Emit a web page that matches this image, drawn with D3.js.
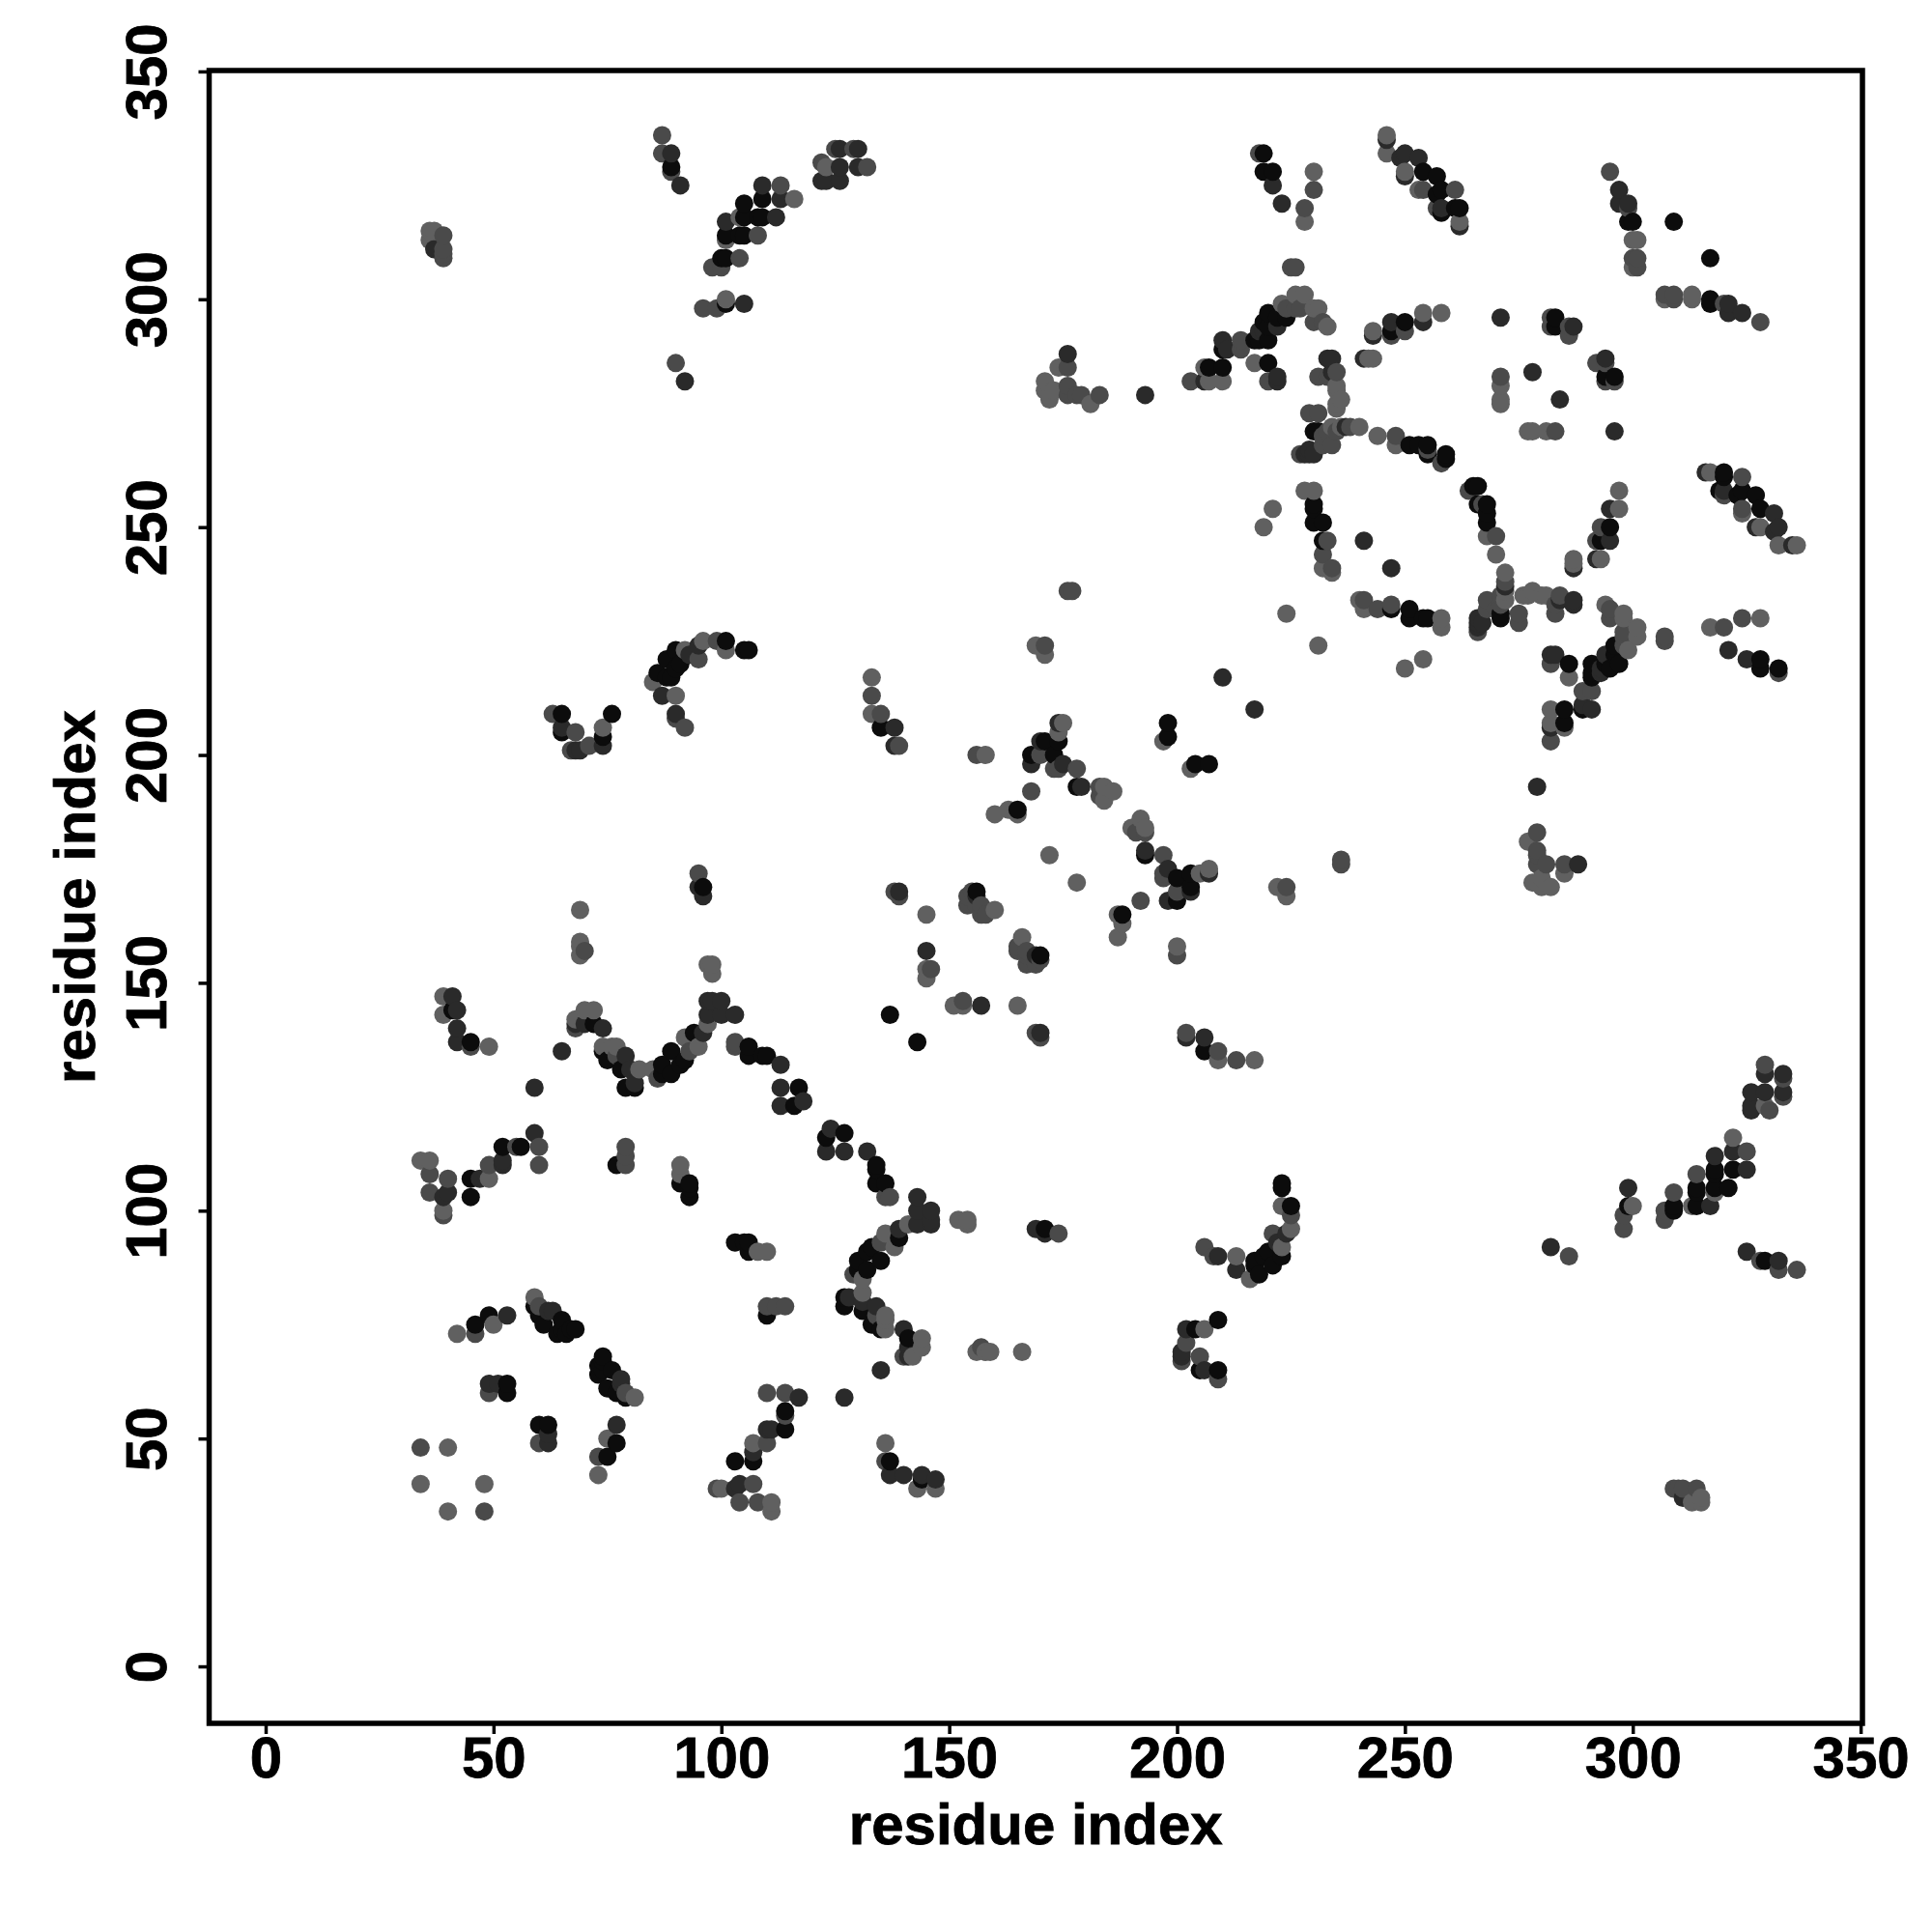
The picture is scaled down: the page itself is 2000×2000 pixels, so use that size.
<!DOCTYPE html>
<html>
<head>
<meta charset="utf-8">
<script src="https://cdn.jsdelivr.net/npm/d3@7/dist/d3.min.js"></script>
<style>html,body{margin:0;padding:0;background:#fff}svg{display:block}</style>
</head>
<body>
<script>
// Residue contact pairs [i, j], i < j. The map is symmetric: each pair is drawn at (i,j) and (j,i).
const contactsLight = [[34,40],[40,48],[36,315],[37,315],[36,313],[101,300],[101,313],[104,318],[116,322],[123,329],[74,206],[85,216],[90,213],[92,223],[96,225],[101,223],[133,217],[133,209],[69,166],[69,159],[69,158],[69,156],[97,154],[98,154],[98,152],[145,165],[145,153],[145,151],[39,147],[39,143],[68,142],[70,144],[72,144],[74,136],[76,136],[77,136],[82,131],[85,131],[92,138],[95,136],[97,141],[34,111],[36,111],[39,100],[49,107],[91,110],[91,108],[42,73],[50,75],[59,81],[49,136],[169,224],[171,222],[175,207],[174,205],[224,231],[197,203],[219,250],[221,254],[184,193],[186,192],[184,190],[160,187],[163,188],[165,187],[158,200],[172,178],[160,166],[174,285],[171,282],[171,280],[172,278],[173,280],[181,277],[207,282],[210,282],[206,285],[217,286],[246,336],[246,332],[250,328],[253,324],[262,317],[230,328],[228,317],[223,299],[226,301],[228,301],[230,298],[231,298],[233,294],[243,293],[254,297],[258,297],[242,287],[243,287],[235,281],[235,280],[236,278],[235,277],[235,276],[240,272],[236,272],[234,272],[244,270],[248,268],[271,281],[271,278],[271,277],[300,313],[301,313],[300,307],[228,258],[230,258],[232,241],[234,240]];
const contactsMid = [[34,48],[39,314],[39,311],[39,310],[39,309],[87,336],[87,332],[89,328],[90,286],[96,298],[99,298],[98,307],[100,307],[104,309],[108,314],[113,325],[122,330],[125,333],[129,333],[132,329],[63,209],[68,205],[67,201],[71,202],[90,208],[92,206],[95,221],[99,225],[133,213],[135,209],[139,202],[95,174],[70,157],[138,170],[139,169],[146,153],[45,136],[68,140],[77,134],[86,129],[93,135],[103,137],[103,136],[36,108],[36,104],[40,107],[39,99],[49,110],[55,114],[60,114],[60,110],[79,114],[79,112],[79,110],[46,73],[60,79],[49,60],[176,236],[177,236],[171,224],[170,200],[173,197],[174,197],[178,197],[183,193],[183,191],[168,192],[156,200],[154,169],[154,167],[156,167],[157,167],[157,165],[158,165],[155,170],[176,285],[176,281],[176,279],[178,279],[179,279],[183,279],[203,282],[214,291],[214,289],[220,282],[254,324],[261,324],[257,320],[218,332],[230,324],[228,320],[225,307],[226,307],[224,298],[226,298],[227,298],[230,295],[232,295],[247,292],[250,293],[235,284],[231,283],[233,283],[229,275],[231,275],[238,272],[232,270],[235,271],[233,271],[234,268],[232,268],[227,266],[248,270],[255,267],[258,264],[271,283],[282,296],[282,294],[286,292],[286,294],[295,328],[299,320],[300,309],[301,309],[301,307],[233,247],[232,244],[234,241]];
const contactsDark = [[37,311],[89,332],[91,325],[92,282],[105,299],[101,317],[109,325],[113,322],[112,318],[122,326],[123,326],[126,326],[126,333],[126,329],[130,333],[130,329],[65,206],[68,201],[69,201],[74,202],[87,213],[90,209],[93,222],[95,224],[138,206],[138,202],[95,171],[96,169],[139,170],[145,157],[41,147],[42,144],[42,140],[42,137],[65,135],[59,127],[68,141],[70,141],[74,140],[79,134],[80,131],[81,128],[96,139],[97,143],[97,146],[100,146],[98,146],[100,143],[103,143],[113,132],[113,127],[113,123],[118,124],[39,103],[40,104],[47,107],[52,111],[52,110],[59,117],[53,77],[62,78],[63,78],[49,62],[51,62],[174,207],[210,217],[170,203],[168,198],[175,198],[179,193],[156,169],[176,288],[193,279],[206,282],[210,291],[211,289],[222,283],[222,282],[246,335],[250,332],[249,331],[253,331],[250,327],[258,320],[262,316],[221,325],[223,321],[218,293],[219,293],[222,294],[243,292],[247,295],[254,295],[241,287],[233,287],[234,287],[234,284],[237,272],[228,266],[229,266],[230,266],[229,267],[271,296],[278,284],[287,294],[297,324],[297,321],[299,321],[241,247]];
const contactsBlack = [[89,329],[101,299],[100,309],[101,309],[101,314],[105,321],[105,318],[105,314],[104,314],[109,322],[109,318],[108,318],[65,209],[65,205],[74,204],[76,209],[86,218],[88,217],[89,217],[88,221],[90,219],[90,223],[91,220],[101,225],[105,223],[106,223],[135,206],[96,171],[137,143],[41,144],[45,137],[72,141],[74,135],[75,133],[78,131],[79,127],[81,127],[87,130],[89,130],[87,132],[89,135],[91,132],[92,133],[94,139],[106,136],[106,134],[109,134],[110,134],[117,127],[116,123],[45,107],[45,103],[52,114],[56,114],[77,110],[91,106],[93,106],[93,105],[93,103],[46,75],[49,77],[59,79],[60,77],[61,75],[64,73],[65,76],[65,74],[66,73],[67,74],[68,74],[53,62],[53,60],[198,207],[198,204],[168,200],[171,203],[174,203],[173,200],[178,193],[165,188],[156,170],[207,285],[210,285],[210,289],[220,286],[254,328],[257,327],[257,323],[258,324],[258,319],[262,320],[261,320],[219,332],[219,328],[221,328],[217,291],[218,291],[220,291],[219,295],[220,294],[220,297],[222,296],[224,296],[247,293],[250,295],[231,271],[230,271],[251,268],[253,268],[255,268],[255,266],[259,266],[259,265],[283,296],[283,294],[299,317],[300,317],[309,317],[230,255],[230,254],[230,251],[232,251],[232,247]];
const tickValues = [0,50,100,150,200,250,300,350];
const xTitle = "residue index";
const yTitle = "residue index";

const shades = [
  {color:"#606060", pairs:contactsLight},
  {color:"#4a4a4a", pairs:contactsMid},
  {color:"#2a2a2a", pairs:contactsDark},
  {color:"#0c0c0c", pairs:contactsBlack}
];

const left=216.5,right=1928,top_=73,bottom=1784;
const x=d3.scaleLinear().domain([-12.4,350.4]).range([left,right]);
const y=d3.scaleLinear().domain([-12.5,350.2]).range([bottom,top_]);

const svg=d3.select("body").append("svg").attr("width",2000).attr("height",2000)
  .style("font-family","'Liberation Sans',Arial,sans-serif").style("font-weight","bold");
svg.append("rect").attr("width",2000).attr("height",2000).attr("fill","#fff");

// Draw in residue order so shades interleave along each arc, as in a per-residue plot.
const points=shades.flatMap(s=>s.pairs.flatMap(([i,j])=>[
  {a:i,b:j,color:s.color},{a:j,b:i,color:s.color}
])).sort((p,q)=>d3.ascending(p.a,q.a)||d3.ascending(p.b,q.b));

svg.append("g").selectAll("circle").data(points).join("circle")
  .attr("cx",d=>x(d.a)).attr("cy",d=>y(d.b)).attr("r",9.5).attr("fill",d=>d.color);

const fontSize="60px";
const gx=svg.append("g").attr("transform",`translate(0,${bottom})`)
  .call(d3.axisBottom(x).tickValues(tickValues).tickSize(11).tickFormat(d3.format("d")));
gx.select(".domain").remove();
gx.selectAll("line").attr("stroke","#000").attr("stroke-width",3.5);
gx.selectAll("text").attr("y",56).attr("dy",0).attr("fill","#000").style("font-size",fontSize).style("font-family","inherit").attr("stroke","#000").attr("stroke-width",0.8);

const gy=svg.append("g").attr("transform",`translate(${left},0)`)
  .call(d3.axisLeft(y).tickValues(tickValues).tickSize(11).tickFormat(d3.format("d")));
gy.select(".domain").remove();
gy.selectAll("line").attr("stroke","#000").attr("stroke-width",3.5);
gy.selectAll("text").attr("x",0).attr("y",-45).attr("dy",0).attr("transform","rotate(-90)")
  .attr("text-anchor","middle").attr("fill","#000").style("font-size",fontSize).style("font-family","inherit").attr("stroke","#000").attr("stroke-width",0.8);

svg.append("rect").attr("x",left).attr("y",top_).attr("width",right-left).attr("height",bottom-top_)
  .attr("fill","none").attr("stroke","#000").attr("stroke-width",5.5);

svg.append("text").attr("x",(left+right)/2).attr("y",1909).attr("text-anchor","middle")
  .style("font-size",fontSize).attr("stroke","#000").attr("stroke-width",0.8).text(xTitle);
svg.append("text").attr("transform",`translate(98,${(top_+bottom)/2}) rotate(-90)`).attr("text-anchor","middle")
  .style("font-size",fontSize).attr("stroke","#000").attr("stroke-width",0.8).text(yTitle);
</script>
</body>
</html>
